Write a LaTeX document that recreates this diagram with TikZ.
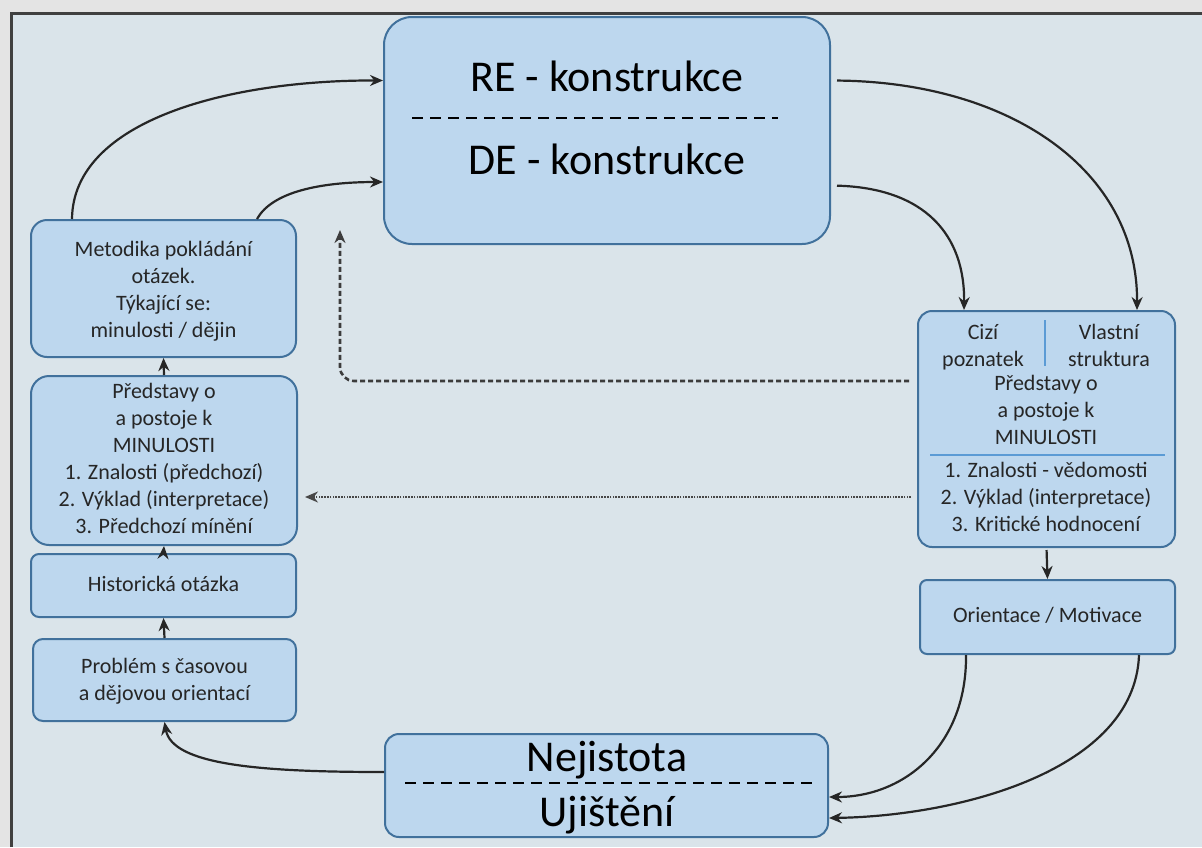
\documentclass[tikz,border=0pt]{standalone}
\usepackage{fontspec}
\setmainfont{Carlito}
\usetikzlibrary{arrows.meta}
\definecolor{bgpanel}{HTML}{DAE4EA}
\definecolor{bgouter}{HTML}{E4E4E4}
\definecolor{boxfill}{HTML}{BDD7EE}
\definecolor{boxline}{HTML}{41719C}
\definecolor{sepline}{HTML}{5B9BD5}
\definecolor{ink}{HTML}{262626}
\tikzset{
  box/.style={draw=boxline, line width=2pt, fill=boxfill, inner sep=0pt},
  small/.style={font=\fontsize{22}{27}\selectfont, align=center, text=ink},
  big/.style={font=\fontsize{44}{46}\selectfont, text=black},
  flow/.style={draw=ink, line width=2.2pt, -{Stealth[length=13pt,width=11pt]}},
  dashflow/.style={draw=ink!90, line width=2.6pt, dash pattern=on 5pt off 3pt,
    -{Stealth[length=13pt,width=11pt]}, rounded corners=14pt},
  dotflow/.style={draw=ink!85, line width=1.8pt, dash pattern=on 1.6pt off 1.2pt,
    -{Stealth[length=13pt,width=11pt]}},
  divider/.style={draw=black, line width=2pt, dash pattern=on 11pt off 7pt},
}
\begin{document}
\begin{tikzpicture}[x=1pt, y=-1pt]
  \useasboundingbox (0,0) rectangle (1202,847);
  % panel background and frame
  \fill[bgouter] (0,0) rectangle (1202,847);
  \fill[bgpanel] (11,13) rectangle (1202,847);
  \draw[line width=3pt, draw=black!75] (11,847) -- (11,13) -- (1202,13);

  % boxes
  \node[box, rounded corners=28pt, minimum width=446pt, minimum height=227pt] (re) at (607,130.5) {};
  \node[box, rounded corners=16pt, minimum width=265pt, minimum height=137pt] (meto) at (163.5,288.5) {};
  \node[box, rounded corners=18pt, minimum width=266pt, minimum height=169pt] (pred) at (164,460.5) {};
  \node[box, rounded corners=8pt, minimum width=265pt, minimum height=63pt] (hist) at (163.5,585.5) {};
  \node[box, rounded corners=10pt, minimum width=263pt, minimum height=82pt] (prob) at (164.5,680) {};
  \node[box, rounded corners=14pt, minimum width=443pt, minimum height=103pt] (nej) at (606.5,785.5) {};
  \node[box, rounded corners=14pt, minimum width=257pt, minimum height=236pt] (vl) at (1046.5,429) {};
  \node[box, rounded corners=7pt, minimum width=255pt, minimum height=74pt] (ori) at (1047.5,617) {};

  % texts of the top box
  \node[big] (reText) at (607,76) {RE - konstrukce};
  \node[big] (deText) at (607,159) {DE - konstrukce};
  \draw[divider] (412,118) -- (778,118);

  % texts of the bottom box
  \node[big] (nejText) at (607,760) {Nejistota};
  \node[big] (ujText) at (607,815) {Ujištění};
  \draw[divider] (405,783) -- (812,783);

  % left column texts
  \node[small] (metoText) at (163.5,292) {Metodika pokládání\strut\\otázek.\strut\\Týkající se:\strut\\minulosti / dějin\strut};
  \node[small] (predText) at (164,461) {Představy o\strut\\a postoje k\strut\\MINULOSTI\strut\\1. Znalosti (předchozí)\strut\\2. Výklad (interpretace)\strut\\3. Předchozí mínění\strut};
  \node[small] (histText) at (163.5,586) {Historická otázka\strut};
  \node[small] (probText) at (164.5,682) {Problém s časovou\strut\\a dějovou orientací\strut};

  % right column texts
  \node[small] (ciziText) at (983,348) {Cizí\strut\\poznatek\strut};
  \node[small] (vlastText) at (1109,348) {Vlastní\strut\\struktura\strut};
  \draw[sepline, line width=2pt] (1045,320) -- (1045,366);
  \node[small] (predRText) at (1046,412) {Představy o\strut\\a postoje k\strut\\MINULOSTI\strut};
  \draw[sepline, line width=2pt] (930,455) -- (1165,455);
  \node[small] (znalText) at (1046,499) {1. Znalosti - vědomosti\strut\\2. Výklad (interpretace)\strut\\3. Kritické hodnocení\strut};
  \node[small] (oriText) at (1047.5,617) {Orientace / Motivace\strut};

  % curved connectors into and out of the top box
  \draw[flow] ([xshift=42pt]meto.north west) .. controls (73,120) and (230,80) .. ([yshift=50pt]re.west);
  \draw[flow] ([xshift=227pt]meto.north west) .. controls (272,192) and (320,182) .. ([yshift=-51.5pt]re.west);
  \draw[flow, shorten <=6pt] ([yshift=50pt]re.east) .. controls (1010,82) and (1138,170) .. ([xshift=220pt]vl.north west);
  \draw[flow, shorten <=6pt] ([yshift=-55pt]re.east) .. controls (925,188) and (965,235) .. ([xshift=47pt]vl.north west);

  % right column down to the bottom box
  \draw[flow, shorten <=2pt] (vl.south) -- (ori.north);
  \draw[flow] ([xshift=47pt]ori.south west) .. controls (967,745) and (905,797) .. ([yshift=-11.5pt]nej.east);
  \draw[flow] ([xshift=220pt]ori.south west) .. controls (1135,770) and (960,816) .. ([yshift=-32.5pt]nej.east);

  % bottom box back to the left column
  \draw[flow] ([yshift=13.5pt]nej.west) .. controls (260,772) and (172,765) .. (prob.south);
  \draw[flow] (prob.north) -- (hist.south);
  \draw[flow] (hist.north) -- (pred.south);
  \draw[flow] (pred.north) -- (meto.south);

  % feedback links from the right box
  \coordinate (dashTip) at (340,230);
  \draw[dashflow, shorten <=8pt] ([yshift=48pt]vl.west) -| (dashTip);
  \draw[dotflow, shorten <=6pt, shorten >=7pt] ([yshift=-68pt]vl.west) -- ([yshift=-36.5pt]pred.east);
\end{tikzpicture}
\end{document}
